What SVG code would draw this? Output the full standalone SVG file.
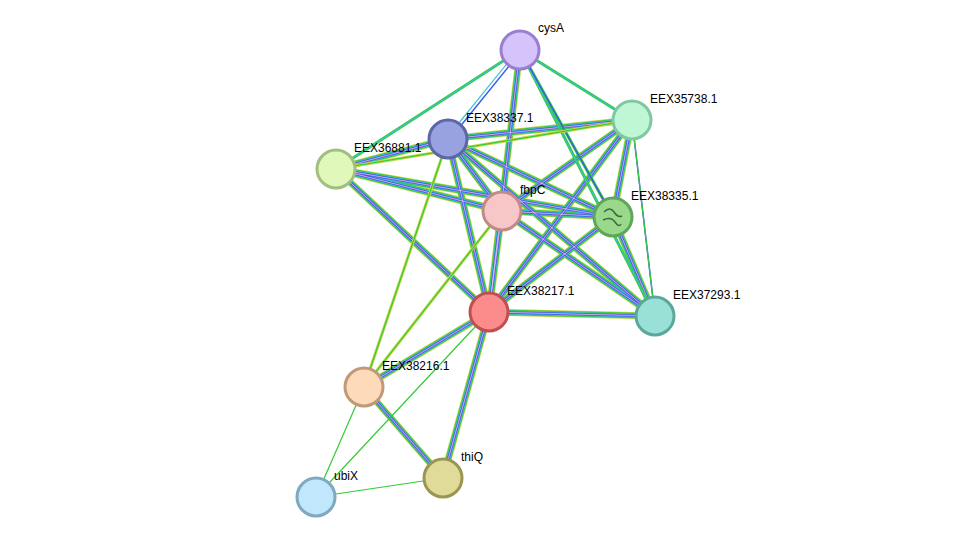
<svg xmlns="http://www.w3.org/2000/svg" width="975" height="543" viewBox="0 0 975 543">
<style>
.l{fill:none;stroke-linecap:butt}
.y{stroke:#c6d64a;stroke-width:7}
.g{stroke:#33cc33;stroke-width:5.5}
.c{stroke:#3fbfd0;stroke-width:4}
.b{stroke:#3a5cf0;stroke-width:2.6}
.p{stroke:#9050d0;stroke-width:1.2}
.w{stroke:#ffffff;stroke-width:0.5}
.g2{stroke:#33cc33;stroke-width:3}
.c2{stroke:#3fbfd0;stroke-width:1.2}
.y2{stroke:#c6d64a;stroke-width:3}
.b2{stroke:#3a5cf0;stroke-width:1.5}
.g1{stroke:#33cc33;stroke-width:1.2}
circle{stroke-width:3}
text{font-family:"Liberation Sans",Arial,sans-serif;font-size:12px;fill:#000}
</style>
<rect width="975" height="543" fill="#fff"/>
<defs>
<path id="f1" d="M448,139L632,120M448,139L336,169M448,139L502,211M448,139L613,217M448,139L489,312M448,139L655,316M336,169L502,211M336,169L613,217M336,169L489,312M632,120L613,217M632,120L489,312M632,120L502,211M502,211L613,217M502,211L489,312M502,211L655,316M613,217L489,312M613,217L655,316M489,312L655,316M489,312L364,387M489,312L443,478M364,387L443,478M520,50L489,312"/>
</defs>
<g id="connectors">
<use href="#f1" class="l y"/>
<use href="#f1" class="l g"/>
<use href="#f1" class="l c"/>
<use href="#f1" class="l b"/>
<use href="#f1" class="l p"/>
<use href="#f1" class="l w"/>
<path class="l g2" d="M520,50L336,169M520,50L632,120M520,50L613,217M520,50L655,316"/>
<path class="l c2" d="M520,50L336,169M520,50L632,120M520,50L655,316"/>
<path class="l b2" d="M520,50L613,217M632,120L655,316M522,50L450,139"/>
<path class="l c2" d="M518,50L446,139"/>
<path class="l y2" d="M448,139L364,387M336,169L632,120M502,211L364,387"/>
<path class="l g1" d="M448,139L364,387M502,211L364,387M336,169L632,120M632,120L655,316M489,312L316,497M364,387L316,497M443,478L316,497"/>
</g>
<g id="cysA"><circle cx="520" cy="50" r="19" fill="#d5c4fb" stroke="#9a7fd0"/><text x="538" y="32">cysA</text></g>
<g id="EEX35738.1"><circle cx="632" cy="120" r="19" fill="#bff7d5" stroke="#80c8a0"/><text x="650" y="103">EEX35738.1</text></g>
<g id="EEX38337.1"><circle cx="448" cy="139" r="19" fill="#98a2e0" stroke="#5c66a8"/><text x="466" y="122">EEX38337.1</text></g>
<g id="EEX36881.1"><circle cx="336" cy="169" r="19" fill="#e0f8b9" stroke="#a0c080"/><text x="354" y="152">EEX36881.1</text></g>
<g id="fbpC"><circle cx="502" cy="211" r="19" fill="#f7c6c6" stroke="#c08a8a"/><text x="520" y="194">fbpC</text></g>
<g id="EEX38335.1"><circle cx="613" cy="217" r="19" fill="#9ad98c" stroke="#5ea65a"/><path d="M604,212q6,-6 10,0t8,4M603,220q8,-4 12,2t6,2" stroke="#3c6a3c" stroke-width="1.5" fill="none"/><text x="631" y="200">EEX38335.1</text></g>
<g id="EEX38217.1"><circle cx="489" cy="312" r="19" fill="#fc8c8c" stroke="#c05050"/><text x="507" y="295">EEX38217.1</text></g>
<g id="EEX37293.1"><circle cx="655" cy="316" r="19" fill="#99e0d6" stroke="#5aa89c"/><text x="673" y="299">EEX37293.1</text></g>
<g id="EEX38216.1"><circle cx="364" cy="387" r="19" fill="#fddab9" stroke="#c09a78"/><text x="382" y="370">EEX38216.1</text></g>
<g id="thiQ"><circle cx="443" cy="478" r="19" fill="#e0db99" stroke="#9a9650"/><text x="461" y="461">thiQ</text></g>
<g id="ubiX"><circle cx="316" cy="497" r="19" fill="#c1e7fc" stroke="#80a8c0"/><text x="334" y="480">ubiX</text></g>
</svg>
